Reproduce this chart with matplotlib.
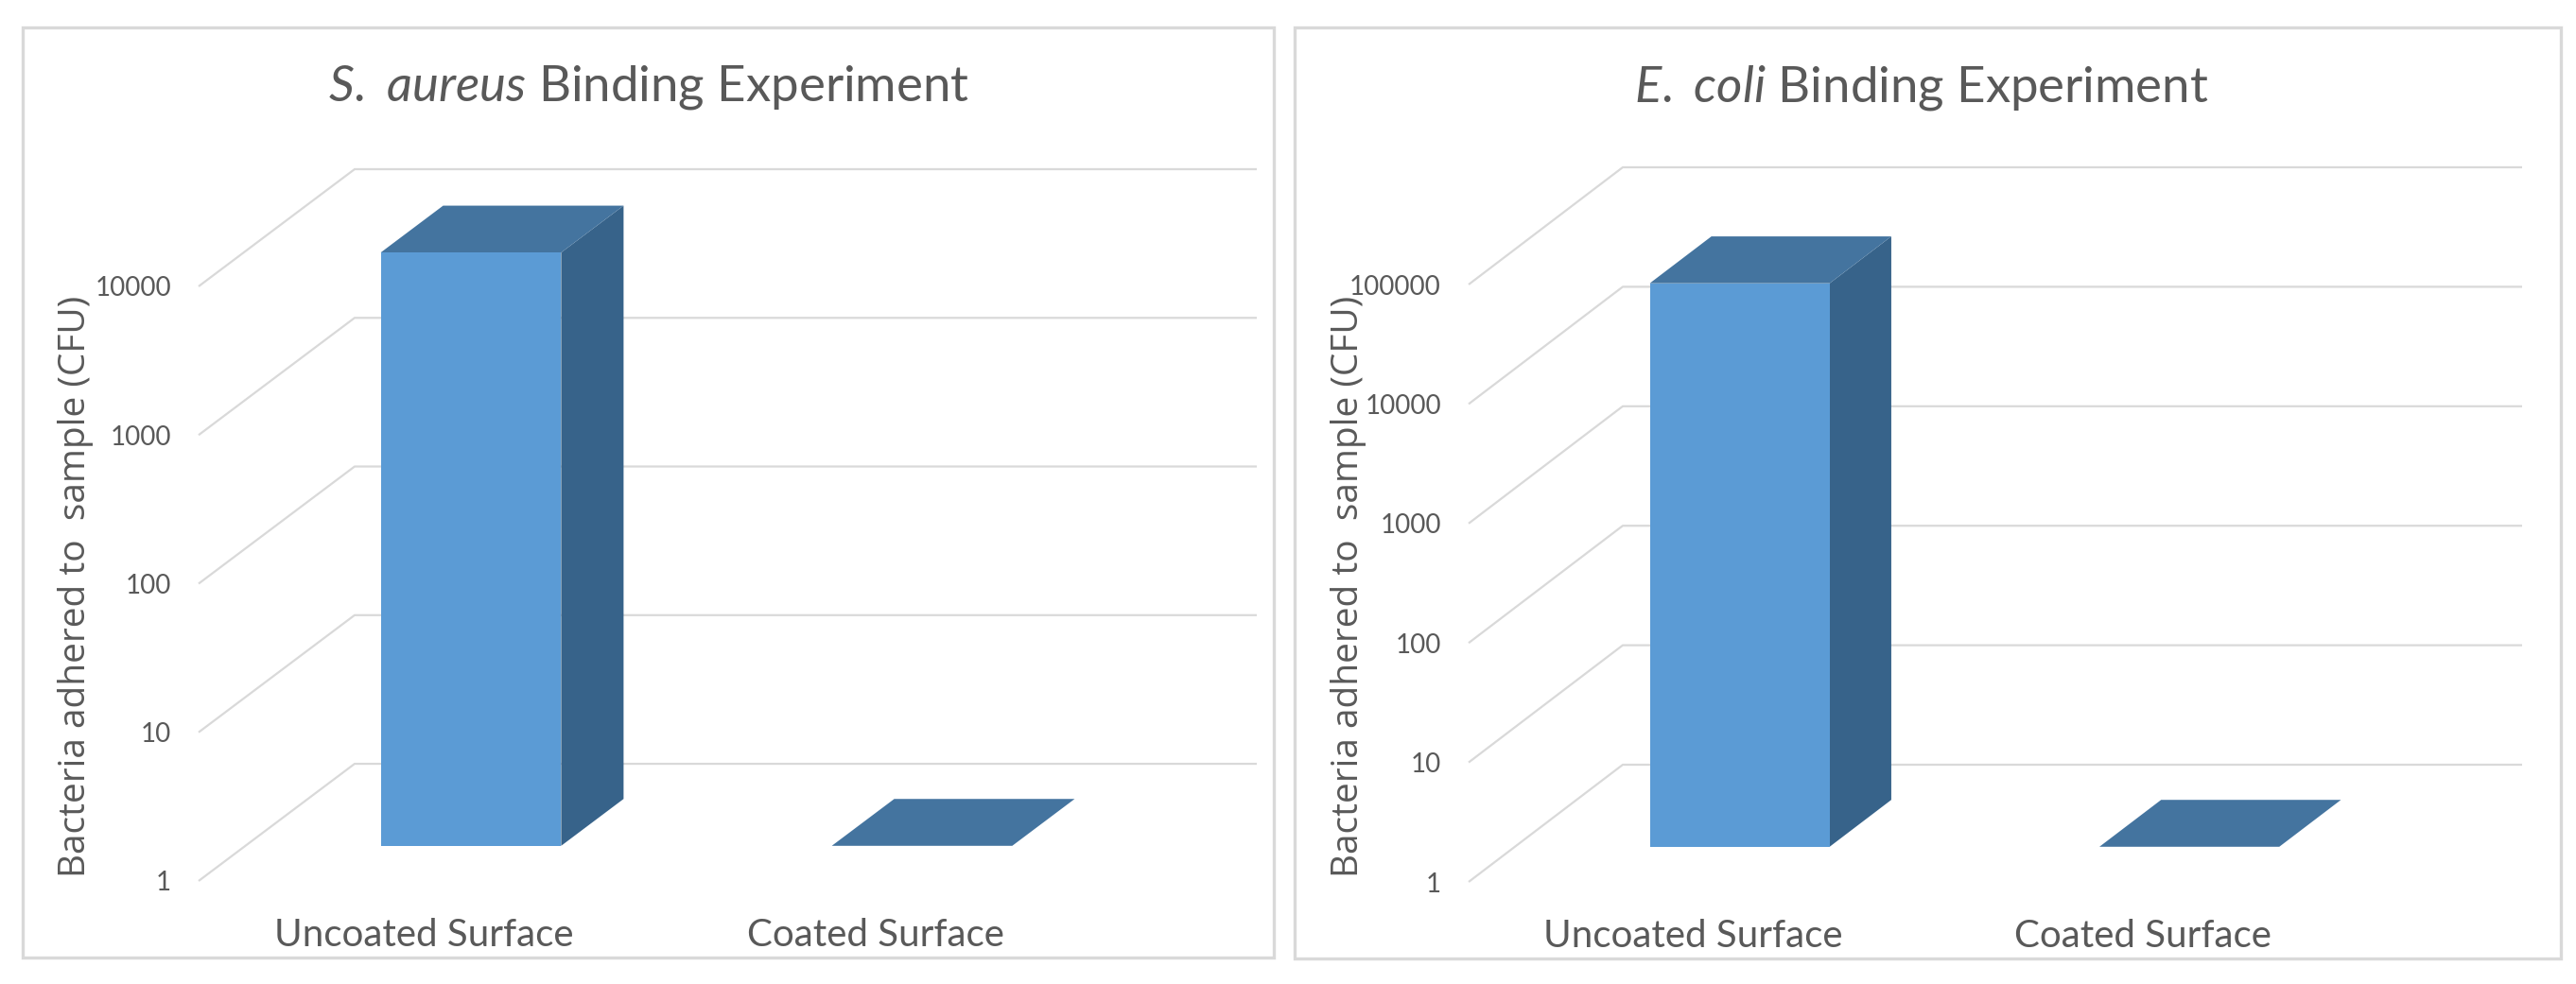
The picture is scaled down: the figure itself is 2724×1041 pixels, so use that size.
import numpy as np
import matplotlib.pyplot as plt
from matplotlib.patches import Polygon, Rectangle
from matplotlib.ticker import NullLocator

plt.rcParams['font.family'] = ['Lato', 'DejaVu Sans']
plt.rcParams['mathtext.fontset'] = 'custom'
plt.rcParams['mathtext.rm'] = 'Lato'
plt.rcParams['mathtext.it'] = 'Lato:italic'

# data
categories = ["Uncoated Surface", "Coated Surface"]
aureus_cfu = [9800, 1]
ecoli_cfu = [52000, 1]
aureus_ticks = [1, 10, 100, 1000, 10000]
ecoli_ticks = [1, 10, 100, 1000, 10000, 100000]
aureus_title = r"$\mathit{S.\ aureus}$ Binding Experiment"
ecoli_title = r"$\mathit{E.\ coli}$ Binding Experiment"
ylabel = "Bacteria adhered to  sample (CFU)"

FRONT = "#5B9BD5"
TOP = "#44749F"
SIDE = "#37638A"
GRID = "#D9D9D9"
TEXT = "#595959"

W, H = 2724, 1041
fig = plt.figure(figsize=(W / 100, H / 100), dpi=100)


def px_axes(left, top, right, bottom):
    # pixel box (origin top-left) -> figure fraction axes
    return fig.add_axes([left / W, (H - bottom) / H, (right - left) / W, (bottom - top) / H])


def panel(ax, values, ticks, dx, dz):
    # dx: depth shift in category units, dz: depth shift in decades
    # d = 0 is the front, d = 1 the back wall
    def proj(x, v, d):
        return x - (1 - d) * dx, v * 10 ** (-(1 - d) * dz)

    n = len(values)
    ax.set_yscale('log')
    ax.set_xlim(-0.5 - dx, n - 0.5)
    ax.set_ylim(10 ** -dz, ticks[-1])

    # side wall diagonals + back wall lines
    for t in ticks:
        pts = [proj(-0.5, t, 0), proj(-0.5, t, 1), proj(n - 0.5, t, 1)]
        ax.plot([p[0] for p in pts], [p[1] for p in pts], color=GRID, lw=1.6,
                solid_capstyle='butt', clip_on=False, zorder=1)

    d0, d1, hw = 0.30, 0.70, 0.2
    for i, v in enumerate(values):
        base = proj(i, 1, d0)[1]
        top = proj(i, v, d0)[1]
        ax.bar(i - (1 - d0) * dx, top - base, bottom=base, width=2 * hw,
               color=FRONT, zorder=3, clip_on=False)
        side = [proj(i + hw, 1, d0), proj(i + hw, 1, d1), proj(i + hw, v, d1), proj(i + hw, v, d0)]
        cap = [proj(i - hw, v, d0), proj(i + hw, v, d0), proj(i + hw, v, d1), proj(i - hw, v, d1)]
        if v > 1:
            ax.add_patch(Polygon(side, closed=True, facecolor=SIDE, edgecolor='none', zorder=2, clip_on=False))
        ax.add_patch(Polygon(cap, closed=True, facecolor=TOP, edgecolor='none', zorder=2, clip_on=False))

    ax.yaxis.set_minor_locator(NullLocator())
    ax.set_yticks([t * 10 ** -dz for t in ticks])
    ax.set_yticklabels([str(t) for t in ticks])
    ax.set_xticks(np.arange(n) - dx)
    ax.set_xticklabels(categories)
    ax.tick_params(axis='y', length=0, pad=21, labelsize=20, labelcolor=TEXT)
    ax.tick_params(axis='x', length=0, pad=28, labelsize=29, labelcolor=TEXT)
    for s in ax.spines.values():
        s.set_visible(False)
    ax.patch.set_alpha(0)


# left chart
ax1 = px_axes(210, 179, 1329, 932)
panel(ax1, aureus_cfu, aureus_ticks, dx=165 / 477, dz=124 / 157.3)
fig.text(686 / W, 1 - 93 / H, aureus_title, ha='center', va='center', fontsize=38, color=TEXT)
fig.text(80 / W, 1 - 620 / H, ylabel, rotation=90, ha='center', va='center',
         fontsize=28, color=TEXT, family=['Open Sans', 'DejaVu Sans'])

# right chart
ax2 = px_axes(1553, 177, 2667, 933)
panel(ax2, ecoli_cfu, ecoli_ticks, dx=163 / 475.5, dz=124 / 126.4)
fig.text(2032 / W, 1 - 93 / H, ecoli_title, ha='center', va='center', fontsize=38, color=TEXT)
fig.text(1426 / W, 1 - 620 / H, ylabel, rotation=90, ha='center', va='center',
         fontsize=28, color=TEXT, family=['Open Sans', 'DejaVu Sans'])

# panel frames
for l, t, r, b in [(24, 29, 1347, 1013), (1369, 29, 2708, 1014)]:
    fig.add_artist(Rectangle((l / W, 1 - b / H), (r - l) / W, (b - t) / H, transform=fig.transFigure,
                             fill=False, edgecolor=GRID, lw=2.4))

fig.savefig("out.png", dpi=100, facecolor='white')
